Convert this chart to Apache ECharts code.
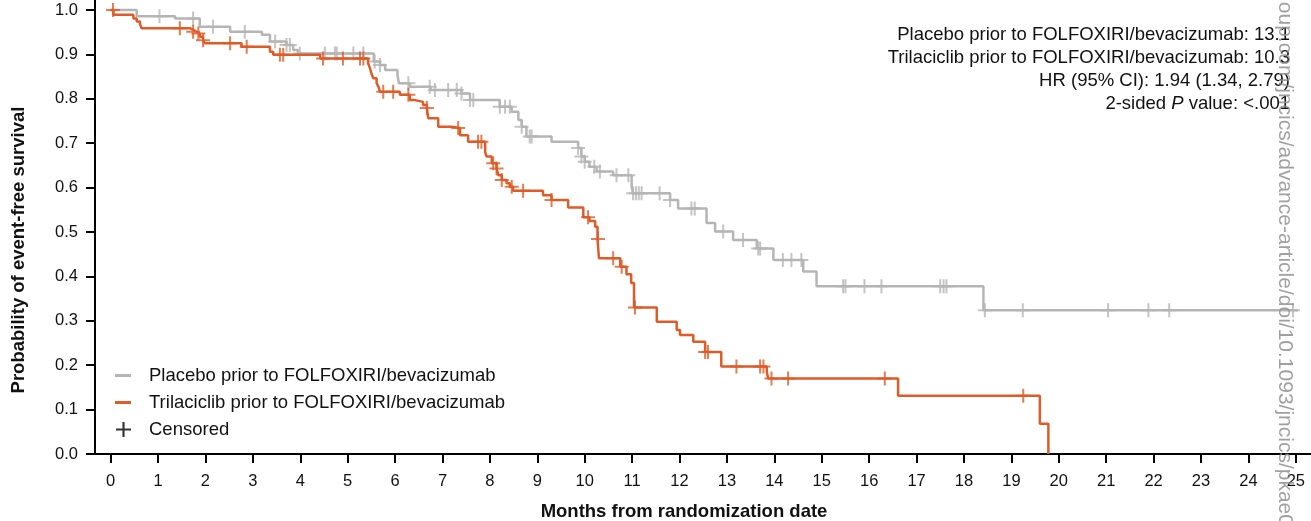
<!DOCTYPE html>
<html>
<head>
<meta charset="utf-8">
<script src="https://cdn.jsdelivr.net/npm/echarts@6/dist/echarts.min.js"></script>
<style>
  html, body { margin: 0; padding: 0; background: #fff; }
  #main { width: 1311px; height: 521px; }
</style>
</head>
<body>
<div id="main"></div>
<script>
// Kaplan-Meier step data (months, survival probability)
const placeboTimes = [0, 0.55, 1.36, 1.88, 2.52, 3.19, 3.36, 3.71, 3.85, 3.95, 5.55, 5.68, 5.79, 6.05, 6.08, 6.31, 6.75, 7.4, 7.58, 8.21, 8.46, 8.6, 8.67, 8.77, 9.30, 9.86, 9.93, 10.0, 10.1, 10.25, 10.6, 10.99, 11.02, 11.8, 11.97, 12.57, 12.75, 13.13, 13.63, 13.98, 14.61, 14.89, 18.41, 25.04];
const placeboSurv = [1.0, 0.986, 0.981, 0.962, 0.951, 0.944, 0.929, 0.921, 0.910, 0.902, 0.884, 0.876, 0.865, 0.854, 0.835, 0.827, 0.82, 0.812, 0.797, 0.782, 0.771, 0.752, 0.737, 0.715, 0.703, 0.689, 0.670, 0.658, 0.647, 0.636, 0.628, 0.602, 0.587, 0.572, 0.553, 0.520, 0.501, 0.482, 0.463, 0.437, 0.411, 0.378, 0.324, 0.324];
const placeboCensored = [1.03, 1.74, 2.16, 2.83, 3.47, 3.71, 3.78, 3.99, 4.52, 4.73, 4.77, 5.12, 5.33, 5.57, 5.68, 6.28, 6.73, 6.84, 7.12, 7.3, 7.4, 7.58, 7.65, 8.21, 8.32, 8.42, 8.67, 8.84, 8.88, 9.86, 9.93, 10.0, 10.2, 10.32, 10.67, 10.92, 11.02, 11.08, 11.14, 11.2, 11.58, 11.8, 12.25, 12.32, 12.92, 13.34, 13.66, 13.7, 14.18, 14.36, 14.57, 15.45, 15.5, 15.9, 16.26, 17.5, 17.57, 17.63, 18.44, 19.24, 21.04, 21.89, 22.33, 24.94];

const trilaTimes = [0, 0.06, 0.48, 0.55, 0.62, 0.65, 1.67, 1.74, 1.81, 1.88, 1.95, 1.99, 2.76, 3.36, 3.43, 4.42, 5.43, 5.47, 5.50, 5.54, 5.61, 5.65, 5.68, 6.10, 6.31, 6.42, 6.59, 6.67, 6.70, 6.91, 7.19, 7.37, 7.54, 7.90, 7.93, 8.04, 8.14, 8.18, 8.25, 8.35, 8.42, 8.49, 9.12, 9.30, 9.65, 9.97, 10.1, 10.22, 10.27, 10.30, 10.75, 10.88, 10.98, 11.04, 11.52, 11.94, 12.01, 12.29, 12.54, 12.88, 13.84, 13.87, 16.61, 19.60, 19.78];
const trilaSurv = [1.0, 0.989, 0.981, 0.974, 0.968, 0.959, 0.955, 0.951, 0.947, 0.940, 0.932, 0.925, 0.917, 0.906, 0.899, 0.891, 0.880, 0.869, 0.857, 0.846, 0.835, 0.827, 0.816, 0.809, 0.797, 0.793, 0.786, 0.779, 0.756, 0.737, 0.734, 0.718, 0.703, 0.680, 0.670, 0.655, 0.643, 0.628, 0.617, 0.610, 0.602, 0.593, 0.583, 0.572, 0.555, 0.533, 0.525, 0.512, 0.484, 0.441, 0.422, 0.405, 0.385, 0.330, 0.298, 0.279, 0.268, 0.253, 0.230, 0.197, 0.185, 0.170, 0.131, 0.068, 0.0];
const trilaCensored = [0.05, 1.46, 1.74, 1.85, 1.95, 2.52, 2.87, 3.57, 3.64, 4.48, 4.9, 5.26, 5.33, 5.75, 5.96, 6.28, 6.67, 7.33, 7.75, 7.82, 8.07, 8.14, 8.25, 8.46, 8.7, 9.30, 10.07, 10.28, 10.6, 10.78, 11.06, 12.54, 12.6, 13.2, 13.7, 13.77, 13.94, 14.29, 16.33, 19.25];

const xTicks = [0, 1, 2, 3, 4, 5, 6, 7, 8, 9, 10, 11, 12, 13, 14, 15, 16, 17, 18, 19, 20, 21, 22, 23, 24, 25];
const yTicks = [0, 0.1, 0.2, 0.3, 0.4, 0.5, 0.6, 0.7, 0.8, 0.9, 1.0];

const placeboName = 'Placebo prior to FOLFOXIRI/bevacizumab';
const trilaName = 'Trilaciclib prior to FOLFOXIRI/bevacizumab';
const annotationLines = [
    'Placebo prior to FOLFOXIRI/bevacizumab: 13.1',
    'Trilaciclib prior to FOLFOXIRI/bevacizumab: 10.3',
    'HR (95% CI): 1.94 (1.34, 2.79)',
    '2-sided {i|P} value: <.001'
];

const GRAY = '#b5b5b5';
const ORANGE = '#df5b27';
const FONT = '"Liberation Sans", Arial, Helvetica, sans-serif';
const PLUS = 'path://M6,0H8V6H14V8H8V14H6V8H0V6H6Z';
const TEXT_SIZE = 18.5;

// survival value of a step curve at time t
function survAt(times, surv, t) {
    let v = surv[0];
    for (let i = 0; i < times.length; i++) {
        if (times[i] <= t) v = surv[i];
    }
    return v;
}

let chart = echarts.init(document.getElementById('main'), null, {renderer: 'canvas'});

let axisLine = {show: true, onZero: false, lineStyle: {color: '#000', width: 2}};
let tickStyle = {show: true, length: 9, lineStyle: {color: '#000', width: 2}};
let labelStyle = {color: '#111', fontSize: 16.5, fontFamily: FONT};
let nameStyle = {color: '#111', fontSize: TEXT_SIZE, fontWeight: 'bold', fontFamily: FONT};
let legendText = {color: '#111', fontSize: TEXT_SIZE, fontFamily: FONT};

let annotation = annotationLines.map((line, i) => {
    return {
        type: 'text',
        x: 1290,
        y: 35 + i * 23,
        style: {
            text: line,
            fill: '#111',
            fontSize: TEXT_SIZE,
            fontFamily: FONT,
            align: 'right',
            verticalAlign: 'middle',
            rich: {i: {fontStyle: 'italic', fontSize: TEXT_SIZE, fontFamily: FONT, fill: '#111'}}
        }
    }
});

let option = {
    animation: false,
    backgroundColor: '#fff',
    grid: {left: 95, right: 0, top: 0, bottom: 67, containLabel: false, outerBoundsMode: 'none'},
    xAxis: {
        type: 'value',
        min: -0.33,
        max: 25.32,
        name: 'Months from randomization date',
        nameLocation: 'middle',
        nameGap: 48,
        nameTextStyle: Object.assign({}, nameStyle, {padding: [0, 38, 0, 0]}),
        axisLine: axisLine,
        axisTick: Object.assign({}, tickStyle, {customValues: xTicks}),
        axisLabel: Object.assign({}, labelStyle, {customValues: xTicks, margin: 19}),
        splitLine: {show: false}
    },
    yAxis: {
        type: 'value',
        min: 0,
        max: 1.0225,
        name: 'Probability of event-free survival',
        nameLocation: 'middle',
        nameGap: 67,
        nameTextStyle: Object.assign({}, nameStyle, {padding: [0, 46, 0, 0]}),
        axisLine: axisLine,
        axisTick: Object.assign({}, tickStyle, {customValues: yTicks}),
        axisLabel: Object.assign({}, labelStyle, {
            customValues: yTicks, margin: 17,
            formatter: v => v.toFixed(1)
        }),
        splitLine: {show: false}
    },
    legend: [{
        data: [placeboName],
        left: 110, top: 361,
        icon: 'rect', itemWidth: 16, itemHeight: 3,
        textStyle: Object.assign({}, legendText, {padding: [0, 0, 0, 13]})
    }, {
        data: [trilaName],
        left: 110, top: 388,
        icon: 'rect', itemWidth: 16, itemHeight: 3,
        textStyle: Object.assign({}, legendText, {padding: [0, 0, 0, 13]})
    }, {
        data: ['Censored'],
        left: 111, top: 415,
        icon: PLUS, itemWidth: 15, itemHeight: 15,
        textStyle: Object.assign({}, legendText, {padding: [0, 0, 0, 13]})
    }],
    graphic: annotation.concat([{
        type: 'text',
        x: 1285,
        y: -4,
        rotation: -Math.PI / 2,
        silent: true,
        style: {
            text: '.oup.com/jncics/advance-article/doi/10.1093/jncics/pkae071',
            fill: '#8f8f8f',
            opacity: 0.85,
            fontSize: 21,
            fontFamily: FONT,
            align: 'left',
            verticalAlign: 'middle'
        },
        z: 100
    }]),
    series: [{
        name: placeboName,
        type: 'line',
        step: 'end',
        symbol: 'none',
        color: GRAY,
        lineStyle: {color: GRAY, width: 2.5},
        data: placeboTimes.map((t, i) => [t, placeboSurv[i]]),
        z: 2
    }, {
        name: 'placeboCensor',
        type: 'scatter',
        symbol: PLUS,
        symbolSize: 14,
        itemStyle: {color: GRAY},
        data: placeboCensored.map(t => [t, survAt(placeboTimes, placeboSurv, t)]),
        z: 3
    }, {
        name: trilaName,
        type: 'line',
        step: 'end',
        symbol: 'none',
        color: ORANGE,
        lineStyle: {color: ORANGE, width: 2.5},
        data: trilaTimes.map((t, i) => [t, trilaSurv[i]]),
        z: 4
    }, {
        name: 'trilaCensor',
        type: 'scatter',
        symbol: PLUS,
        symbolSize: 14,
        itemStyle: {color: ORANGE},
        data: trilaCensored.map(t => [t, survAt(trilaTimes, trilaSurv, t)]),
        z: 5
    }, {
        name: 'Censored',
        type: 'scatter',
        symbol: PLUS,
        itemStyle: {color: '#000'},
        data: []
    }]
};

chart.setOption(option);
</script>
</body>
</html>
